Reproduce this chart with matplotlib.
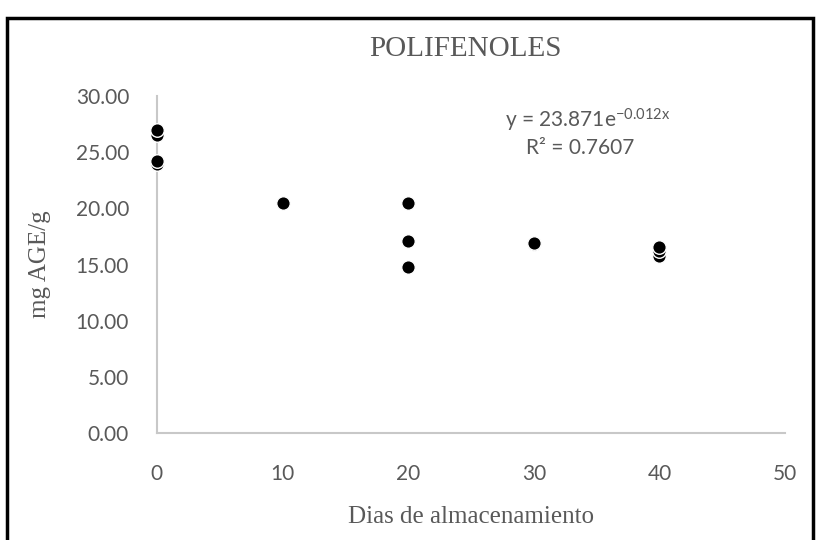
import matplotlib
matplotlib.use("Agg")
import matplotlib.pyplot as plt
from matplotlib.patches import Rectangle

# Storage days and total polyphenols (mg AGE/g)
dias = [0, 0, 0, 0, 10, 20, 20, 20, 30, 30, 40, 40, 40]
polifenoles = [26.5, 27.0, 24.0, 24.2, 20.5, 20.5, 17.1, 14.8, 16.8, 16.9, 15.8, 16.2, 16.6]

x_ticks = [0, 10, 20, 30, 40, 50]
y_ticks = [0, 5, 10, 15, 20, 25, 30]
ecuacion = "y = 23.871e$\\mathregular{^{-0.012x}}$"
r2 = "R² = 0.7607"

gris = "#595959"
eje = "#c8c8c8"
serif = ["Liberation Serif", "DejaVu Serif"]
sans = ["Lato", "DejaVu Sans"]

fig = plt.figure(figsize=(8.17, 5.40), dpi=100)
ax = fig.add_axes([0.192, 0.198, 0.769, 0.624])

ax.scatter(dias, polifenoles, s=95, c="black", edgecolors="white",
           linewidths=1.0, zorder=3, clip_on=False)

ax.set_xlim(0, 50)
ax.set_ylim(0, 30)
ax.set_xticks(x_ticks)
ax.set_yticks(y_ticks)
ax.set_yticklabels([f"{v:.2f}" for v in y_ticks])
ax.tick_params(length=0, labelsize=15, labelcolor=gris)
ax.tick_params(axis="x", pad=22)
ax.tick_params(axis="y", pad=20)
for lbl in ax.get_xticklabels() + ax.get_yticklabels():
    lbl.set_family(sans)

for side in ("top", "right"):
    ax.spines[side].set_visible(False)
for side in ("left", "bottom"):
    ax.spines[side].set_color(eje)
    ax.spines[side].set_linewidth(1.5)

ax.set_xlabel("Dias de almacenamiento", family=serif, fontsize=18,
              color=gris, labelpad=16)
ax.set_ylabel("mg AGE/g", family=serif, fontsize=18, color=gris,
              labelpad=18)
fig.text(0.57, 0.91, "POLIFENOLES", family=serif, fontsize=21,
         color=gris, ha="center", va="center")

ax.text(34.3, 27.8, ecuacion, family=sans, fontsize=15, color=gris,
        ha="center", va="center")
ax.text(33.7, 25.4, r2, family=sans, fontsize=15, color=gris,
        ha="center", va="center")

# black frame around the chart area
fig.patches.append(Rectangle((7, -10), 806, 532, transform=None,
                             fill=False, edgecolor="black", linewidth=2.5))

fig.savefig("out.png", dpi=100)
